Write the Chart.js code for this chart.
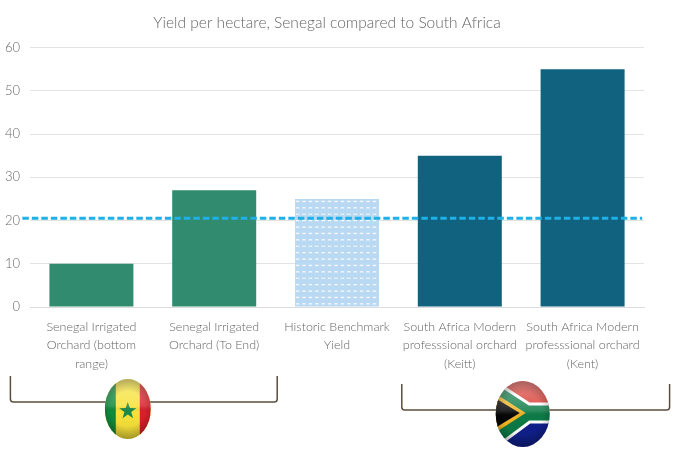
<!DOCTYPE html>
<html><head><meta charset="utf-8">
<style>html,body{margin:0;padding:0;background:#fff}canvas{display:block}</style>
<script src="https://cdn.jsdelivr.net/npm/chart.js@4"></script>
</head><body><canvas id="c" width="679" height="454"></canvas>
<script>
const titleText = "Yield per hectare, Senegal compared to South Africa";
const categories = [
  ["Senegal Irrigated","Orchard (bottom","range)"],
  ["Senegal Irrigated","Orchard (To End)"],
  ["Historic Benchmark","Yield"],
  ["South Africa Modern","professsional orchard","(Keitt)"],
  ["South Africa Modern","professsional orchard","(Kent)"]
];
const yieldValues = [10, 27, 25, 35, 55];
const averageX = [-0.0125, 0.997];
const averageY = [20.5, 20.5];
const FONT = "Lato, 'Open Sans', sans-serif";
const GREY = "#666666";

function wavePattern(){
  const t = document.createElement("canvas"); t.width = 32; t.height = 32;
  const g = t.getContext("2d");
  g.fillStyle = "#b9d8f2"; g.fillRect(0,0,32,32);
  g.strokeStyle = "#f4f9fd"; g.lineWidth = 1.2;
  for(let r=0;r<5;r++) for(let k=0;k<5;k++){
    g.beginPath();
    g.moveTo(k*6.4+1.4, r*6.4+3.4);
    g.quadraticCurveTo(k*6.4+3.2, r*6.4+2.2, k*6.4+5, r*6.4+3.4);
    g.stroke();
  }
  return document.createElement("canvas").getContext("2d").createPattern(t,"repeat");
}
const barColors = ["#318b6e","#318b6e",wavePattern(),"#10627e","#10627e"];

function bracket(c,x0,x1,top,bottom){
  c.save(); c.strokeStyle="#5a4f3c"; c.lineWidth=1.5; c.beginPath();
  c.moveTo(x0,top); c.lineTo(x0,bottom-3); c.quadraticCurveTo(x0,bottom,x0+3,bottom);
  c.lineTo(x1-3,bottom); c.quadraticCurveTo(x1,bottom,x1,bottom-3); c.lineTo(x1,top);
  c.stroke(); c.restore();
}
function gloss(c,cx,cy,rx,ry,a){
  const g=c.createLinearGradient(0,cy-ry,0,cy+ry);
  g.addColorStop(0,"rgba(255,255,255,"+a+")");g.addColorStop(.45,"rgba(255,255,255,.14)");
  g.addColorStop(.55,"rgba(0,0,0,0)");g.addColorStop(1,"rgba(0,0,0,.08)");
  c.fillStyle=g;c.fillRect(cx-rx,cy-ry,2*rx,2*ry);
  const e=c.createRadialGradient(cx,cy,Math.min(rx,ry)*.75,cx,cy,Math.max(rx,ry)*1.02);
  e.addColorStop(0,"rgba(0,0,0,0)");e.addColorStop(1,"rgba(0,0,0,.3)");
  c.fillStyle=e;c.fillRect(cx-rx,cy-ry,2*rx,2*ry);
}
function senegal(c,cx,cy,rx,ry){
  c.save();c.beginPath();c.ellipse(cx,cy,rx,ry,0,0,7);c.clip();
  c.fillStyle="#f7e23a";c.fillRect(cx-rx,cy-ry,2*rx,2*ry);
  c.fillStyle="#0f8a3c";c.fillRect(cx-rx,cy-ry,11,2*ry);
  c.fillStyle="#d9202a";c.fillRect(cx+rx-11,cy-ry,11,2*ry);
  c.fillStyle="#1a8a4a";c.beginPath();
  for(let i=0;i<10;i++){const a=-Math.PI/2+i*Math.PI/5,r=i%2?3.6:9;
    c.lineTo(cx+r*Math.cos(a),cy+2+r*Math.sin(a));}
  c.closePath();c.fill();
  gloss(c,cx,cy,rx,ry,.34);c.restore();
}
function southAfrica(c,cx,cy,rx,ry){
  c.save();c.beginPath();c.ellipse(cx,cy,rx,ry,0,0,7);c.clip();
  const L=cx-rx,R=cx+rx,T=cy-ry,B=cy+ry,my=cy-1,jx=cx+4;
  c.fillStyle="#d8342c";c.fillRect(L,T,2*rx,ry);
  c.fillStyle="#10208c";c.fillRect(L,my,2*rx,ry+2);
  const band=(w,col)=>{c.strokeStyle=col;c.lineWidth=w;c.beginPath();
    c.moveTo(L-12,T+4);c.lineTo(jx,my);c.lineTo(R+4,my);c.moveTo(jx,my);c.lineTo(L-12,B-2);c.stroke();};
  band(21,"#ffffff");band(15,"#0c7a46");
  c.fillStyle="#f0b323";c.beginPath();c.moveTo(L-4,my-22);c.lineTo(cx+3,my);c.lineTo(L-4,my+22);c.fill();
  c.fillStyle="#050505";c.beginPath();c.moveTo(L-4,my-17);c.lineTo(cx-3,my);c.lineTo(L-4,my+17);c.fill();
  gloss(c,cx,cy,rx,ry,.42);c.restore();
}
const decorations = {
  id:"decorations",
  afterLayout(chart){ if(chart.titleBlock) chart.titleBlock.left += 10; },
  afterDraw(chart){
    const c=chart.ctx, a=chart.chartArea;
    const n=chart.scales.x;
    const sx0=n.getPixelForValue(0)-81, sx1=n.getPixelForValue(1)+63;
    const ax0=n.getPixelForValue(3)-58, ax1=n.getPixelForValue(4)+87;
    bracket(c,sx0,sx1,a.bottom+69,a.bottom+95);
    bracket(c,ax0,ax1,a.bottom+77,a.bottom+103);
    senegal(c,(sx0+sx1)/2-16,a.bottom+102,23,30);
    southAfrica(c,(ax0+ax1)/2-13,a.bottom+107,27,33);
  }
};

new Chart(document.getElementById("c"),{
  type:"bar",
  data:{
    labels:categories,
    datasets:[
      {type:"line",data:averageX.map((x,i)=>({x,y:averageY[i]})),xAxisID:"x2",yAxisID:"y",
       borderColor:"#1fb0e8",borderWidth:3,borderDash:[6.5,3],pointRadius:0,clip:false,order:0},
      {type:"bar",data:yieldValues,xAxisID:"x",yAxisID:"y",backgroundColor:barColors,
       barPercentage:0.684,categoryPercentage:1,grouped:false,order:1}
    ]
  },
  plugins:[decorations],
  options:{
    responsive:false,animation:false,devicePixelRatio:1,
    layout:{padding:{left:0,right:35,top:0,bottom:0}},
    plugins:{
      legend:{display:false},tooltip:{enabled:false},
      title:{display:true,text:titleText,color:GREY,align:"center",
        font:{family:FONT,size:15.5,weight:"300"},padding:{top:14,bottom:15}}
    },
    scales:{
      x:{type:"category",offset:true,grid:{display:false,drawTicks:false},border:{color:"#dcdcdc"},
        afterFit(s){s.height=147;},
        ticks:{color:GREY,font:{family:FONT,size:12.5,weight:"300",lineHeight:1.46},autoSkip:false,maxRotation:0,padding:11}},
      x2:{type:"linear",display:false,offset:false,min:0,max:1},
      y:{min:0,max:60,afterFit(s){s.width=30;},
        grid:{color:"#e3e3e3",drawTicks:false},border:{display:false},
        ticks:{stepSize:10,color:GREY,font:{family:FONT,size:13,weight:"300"},padding:10}}
    }
  }
});
</script></body></html>
